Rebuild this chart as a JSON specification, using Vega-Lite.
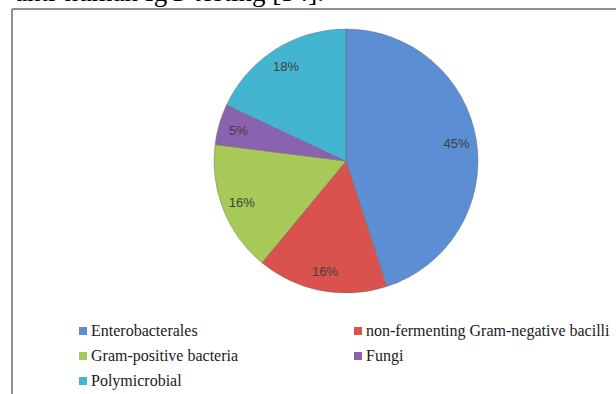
{
  "$schema": "https://vega.github.io/schema/vega-lite/v6.json",
  "width": 604,
  "height": 385,
  "autosize": {"type": "none"},
  "padding": {"left": 12, "top": 9, "right": 0, "bottom": 0},
  "background": "#ffffff",
  "config": {"view": {"stroke": null}},
  "title": {
    "text": "anti-human IgG testing [34].",
    "anchor": "start",
    "frame": "group",
    "baseline": "alphabetic",
    "offset": -19,
    "dx": 3,
    "font": "Liberation Serif",
    "fontSize": 27,
    "fontWeight": "normal",
    "color": "#000000"
  },
  "data": {
    "values": [
      {"group": "Enterobacterales", "pct": 45, "label": "45%", "ord": 1},
      {"group": "non-fermenting Gram-negative bacilli", "pct": 16, "label": "16%", "ord": 2},
      {"group": "Gram-positive bacteria", "pct": 16, "label": "16%", "ord": 3},
      {"group": "Fungi", "pct": 5, "label": "5%", "ord": 4},
      {"group": "Polymicrobial", "pct": 18, "label": "18%", "ord": 5}
    ]
  },
  "layer": [
    {
      "mark": {"type": "rule", "color": "#8c8c8c", "strokeWidth": 1},
      "encoding": {"x": {"value": 0}}
    },
    {
      "mark": {"type": "rule", "color": "#8c8c8c", "strokeWidth": 1},
      "encoding": {"y": {"value": 0}}
    },
    {
      "mark": {"type": "arc", "x": 334, "y": 152, "radius": 132, "stroke": "#6b6b6b", "strokeWidth": 0.6, "strokeOpacity": 0.7},
      "encoding": {
        "theta": {"field": "pct", "type": "quantitative", "stack": true},
        "order": {"field": "ord", "type": "quantitative"},
        "color": {
          "field": "group",
          "type": "nominal",
          "scale": {
            "domain": ["Enterobacterales", "non-fermenting Gram-negative bacilli", "Gram-positive bacteria", "Fungi", "Polymicrobial"],
            "range": ["#5b8ed3", "#d9524e", "#a6c957", "#8a63b0", "#43b5d0"]
          },
          "legend": {
            "title": null,
            "orient": "none",
            "direction": "horizontal",
            "legendX": 63,
            "legendY": 314,
            "columns": 2,
            "columnPadding": 111,
            "rowPadding": 9,
            "symbolType": "square",
            "symbolSize": 64,
            "symbolStrokeWidth": 0,
            "labelOffset": 0,
            "labelFont": "Liberation Serif",
            "labelFontSize": 16,
            "labelColor": "#1a1a1a",
            "labelLimit": 400
          }
        }
      }
    },
    {
      "mark": {"type": "text", "x": 334, "y": 153, "radius": 112, "font": "Liberation Sans", "fontSize": 13, "fill": "#404040"},
      "encoding": {
        "theta": {"field": "pct", "type": "quantitative", "stack": true},
        "order": {"field": "ord", "type": "quantitative"},
        "text": {"field": "label", "type": "nominal"}
      }
    }
  ]
}
